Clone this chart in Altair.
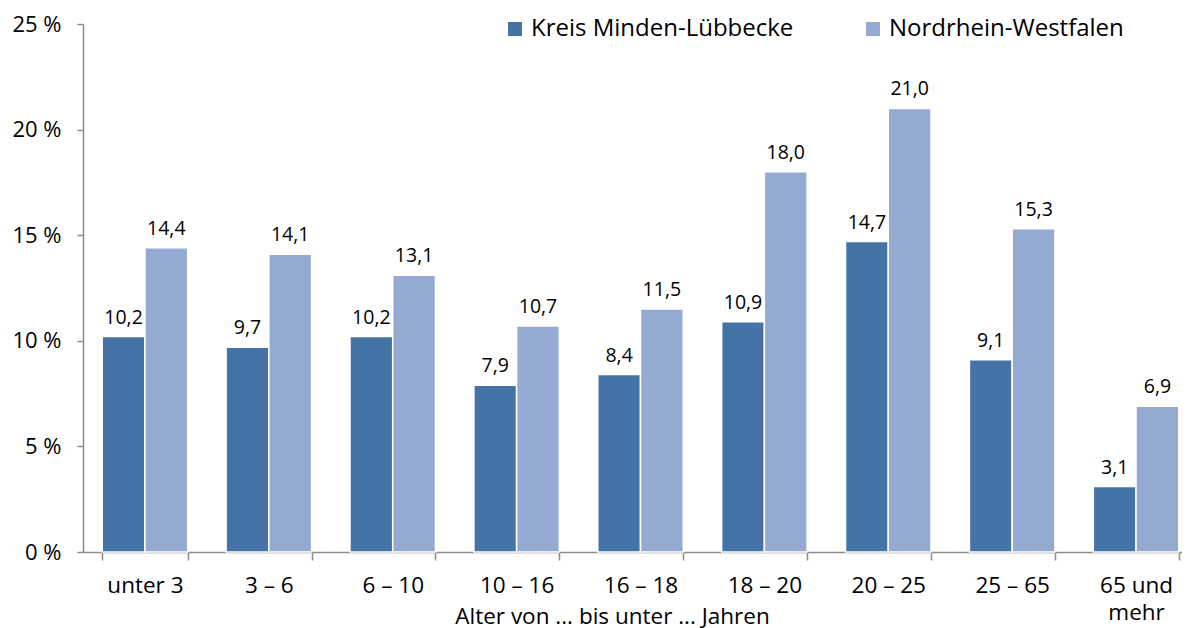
import altair as alt
import pandas as pd

categories = ["unter 3", "3 –  6", "6 – 10", "10 – 16", "16 – 18", "18 – 20",
              "20 – 25", "25 – 65", "65 und\nmehr"]
series = ["Kreis Minden-Lübbecke", "Nordrhein-Westfalen"]
kreis = [10.2, 9.7, 10.2, 7.9, 8.4, 10.9, 14.7, 9.1, 3.1]
nrw = [14.4, 14.1, 13.1, 10.7, 11.5, 18.0, 21.0, 15.3, 6.9]
colors = ["#4573A7", "#95AAD3"]
y_ticks = [0, 5, 10, 15, 20, 25]

rows = []
for i, c in enumerate(categories):
    for s, vals in zip(series, [kreis, nrw]):
        v = vals[i]
        rows.append({"cat": c, "series": s, "value": v,
                     "label": f"{v:.1f}".replace(".", ",")})
df = pd.DataFrame(rows)

FONT = "Open Sans"

x_enc = alt.X("cat:N", sort=categories,
              scale=alt.Scale(paddingInner=0.31, paddingOuter=0.155, range=[0, 1115]),
              axis=alt.Axis(title="Alter von ... bis unter ... Jahren",
                            labelExpr="split(datum.label, '\\n')",
                            labelAngle=0, labelFontSize=22.5, labelFont=FONT,
                            labelColor="black", labelPadding=14,
                            labelLineHeight=27,
                            tickBand="extent", tickSize=8, tickColor="#8c8c8c",
                            domainColor="#8c8c8c", domainWidth=1.5, tickWidth=1.5,
                            titleFont=FONT, titleFontSize=22.5, titleFontWeight="normal",
                            titleColor="black", titleX=529, titleY=71,
                            titleAlign="center", titleBaseline="alphabetic"))
y_enc = alt.Y("value:Q", scale=alt.Scale(domain=[0, 25], nice=False),
              axis=alt.Axis(values=y_ticks, title=None, grid=False,
                            labelExpr="datum.value + ' %'",
                            labelFontSize=22, labelFont=FONT, labelColor="black",
                            labelPadding=16, tickSize=6, tickColor="#8c8c8c",
                            domainColor="#8c8c8c", domainWidth=1.5, tickWidth=1.5))
xoff = alt.XOffset("series:N", sort=series, scale=alt.Scale(paddingInner=0, paddingOuter=0))

bars = alt.Chart(df).mark_bar(stroke="white", strokeWidth=1.5).encode(
    x=x_enc, y=y_enc, xOffset=xoff,
    color=alt.Color("series:N", sort=series,
                    scale=alt.Scale(domain=series, range=colors),
                    legend=alt.Legend(title=None, orient="none", legendX=420, legendY=-7,
                                      direction="horizontal", symbolType="square",
                                      symbolSize=196, symbolStrokeWidth=0,
                                      labelFont=FONT, labelFontSize=24,
                                      labelColor="black", labelOffset=4,
                                      columnPadding=67, labelLimit=400)))

texts = alt.Chart(df).mark_text(baseline="alphabetic", dy=-13, fontSize=19.5,
                                font=FONT, color="black").encode(
    x=alt.X("cat:N", sort=categories), y="value:Q", xOffset=xoff, text="label:N")

chart = alt.layer(bars, texts).properties(
    width=1099, height=528,
    autosize=alt.AutoSizeParams(type="none"),
    padding={"left": 75, "top": 16, "right": 0, "bottom": 76},
).configure_view(stroke=None)

chart.save("out.html", embed_options={"renderer": "svg", "actions": False})
